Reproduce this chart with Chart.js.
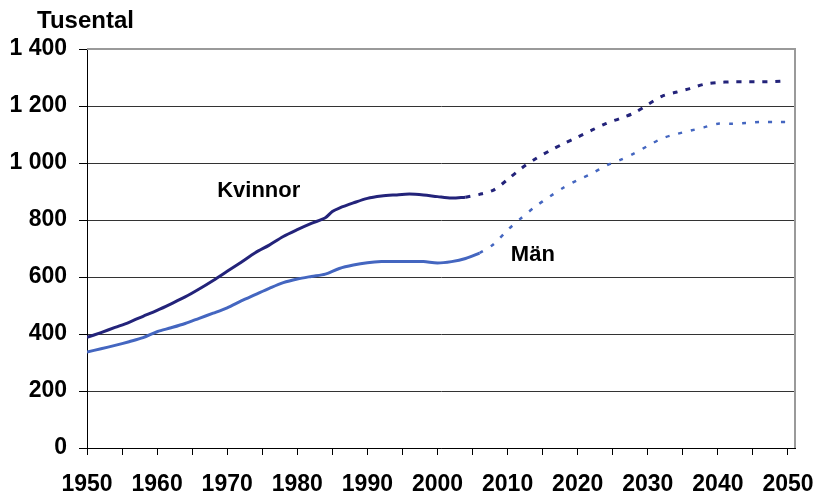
<!DOCTYPE html>
<html>
<head>
<meta charset="utf-8">
<script src="https://cdn.jsdelivr.net/npm/chart.js@4"></script>
<style>
html,body{margin:0;padding:0;background:#fff;}
#wrap{width:819px;height:494px;position:relative;}
</style>
</head>
<body>
<div id="wrap"><canvas id="c" width="819" height="494"></canvas></div>
<script>
// ---- Data (thousands) ----
const kvinnorObsYears = [1950,1952,1954,1956,1958,1960,1962,1964,1966,1968,1970,1972,1974,1976,1978,1980,1982,1984,1985,1986,1988,1990,1992,1994,1996,1998,2000,2002,2004];
const kvinnorObs      = [388,405,423,441,462,483,506,530,558,588,620,652,685,712,742,766,788,808,830,842,860,876,884,888,891,888,882,877,880];
const kvinnorProjYears = [2004,2006,2008,2010,2012,2014,2016,2018,2020,2022,2024,2026,2028,2030,2032,2034,2036,2038,2040,2042,2044,2046,2048,2050];
const kvinnorProj      = [880,890,905,942,982,1015,1043,1068,1091,1115,1138,1156,1175,1205,1234,1248,1261,1276,1282,1285,1285,1285,1286,1289];

const manObsYears = [1950,1952,1954,1956,1958,1960,1962,1964,1966,1968,1970,1972,1974,1976,1978,1980,1982,1984,1986,1988,1990,1992,1994,1996,1998,2000,2002,2004,2006];
const manObs      = [337,348,360,373,387,408,422,437,455,473,492,516,538,560,580,593,602,610,630,642,650,654,654,654,654,649,654,665,684];
const manProjYears = [2006,2008,2010,2012,2014,2016,2018,2020,2022,2024,2026,2028,2030,2032,2034,2036,2038,2040,2042,2044,2046,2048,2050];
const manProj      = [684,715,765,808,848,882,914,940,963,990,1010,1033,1060,1086,1101,1113,1125,1138,1138,1140,1144,1144,1144];

const xTickYears = [1950,1955,1960,1965,1970,1975,1980,1985,1990,1995,2000,2005,2010,2015,2020,2025,2030,2035,2040,2045,2050];
const yTicks = [0,200,400,600,800,1000,1200,1400];

const unitLabel = 'Tusental';
const seriesNames = ['Kvinnor','Män'];

const pts = (xs, ys) => xs.map((x, i) => ({x: x, y: ys[i]}));

const FONT = '"Liberation Sans", Arial, sans-serif';
const navy = '#23237a';
const blue = '#4466c0';

const textPlugin = {
  id: 'texts',
  afterDraw(chart) {
    const {ctx, chartArea, scales} = chart;
    ctx.save();
    // plot border (top & right)
    ctx.strokeStyle = '#9a9a9a';
    ctx.lineWidth = 2;
    ctx.beginPath();
    ctx.moveTo(chartArea.left, chartArea.top);
    ctx.lineTo(chartArea.right, chartArea.top);
    ctx.lineTo(chartArea.right, chartArea.bottom);
    ctx.stroke();
    ctx.fillStyle = '#000';
    ctx.textBaseline = 'middle';
    ctx.textAlign = 'left';
    ctx.font = 'bold 24px ' + FONT;
    ctx.fillText(unitLabel, 37, 21);
    ctx.font = 'bold 22px ' + FONT;
    ctx.textAlign = 'center';
    ctx.fillText(seriesNames[0], scales.x.getPixelForValue(1974.5), scales.y.getPixelForValue(903));
    ctx.fillText(seriesNames[1], scales.x.getPixelForValue(2013.6), scales.y.getPixelForValue(678));
    ctx.restore();
  }
};

new Chart(document.getElementById('c'), {
  type: 'line',
  data: {
    datasets: [
      {label: 'Kvinnor', data: pts(kvinnorObsYears, kvinnorObs), borderColor: navy, borderWidth: 3, pointRadius: 0, tension: 0.3, fill: false},
      {label: 'Kvinnor prognos', data: pts(kvinnorProjYears, kvinnorProj), borderColor: navy, borderWidth: 3, borderDash: [5, 8], pointRadius: 0, tension: 0.3, fill: false},
      {label: 'Män', data: pts(manObsYears, manObs), borderColor: blue, borderWidth: 3, pointRadius: 0, tension: 0.3, fill: false},
      {label: 'Män prognos', data: pts(manProjYears, manProj), borderColor: blue, borderWidth: 2.5, borderDash: [4, 9], pointRadius: 0, tension: 0.3, fill: false}
    ]
  },
  options: {
    responsive: false,
    animation: false,
    devicePixelRatio: 1,
    layout: {padding: {left: 0, right: 24, top: 49, bottom: 0}},
    plugins: {legend: {display: false}, tooltip: {enabled: false}, title: {display: false}},
    scales: {
      x: {
        type: 'linear',
        min: 1950,
        max: 2051,
        afterBuildTicks: (s) => { s.ticks = xTickYears.map(v => ({value: v})); },
        afterFit: (s) => { s.height = 46; s.paddingLeft = 0; s.paddingRight = 0; },
        grid: {drawOnChartArea: false, drawTicks: true, tickLength: 7, color: '#000', tickColor: '#000'},
        border: {display: true, color: '#000', width: 1},
        ticks: {
          autoSkip: false,
          maxRotation: 0,
          padding: 16,
          color: '#000',
          font: {family: FONT, size: 23, weight: 'bold'},
          callback: (v) => (v % 10 === 0 ? String(v) : '')
        }
      },
      y: {
        min: 0,
        max: 1400,
        afterBuildTicks: (s) => { s.ticks = yTicks.map(v => ({value: v})); },
        afterFit: (s) => { s.width = 87; s.paddingTop = 0; s.paddingBottom = 0; },
        grid: {color: '#333', lineWidth: 1, tickLength: 8, tickColor: '#000'},
        border: {display: true, color: '#000', width: 1},
        ticks: {
          padding: 12,
          color: '#000',
          font: {family: FONT, size: 23, weight: 'bold'},
          callback: (v) => (v >= 1000 ? Math.floor(v / 1000) + ' ' + String(v % 1000).padStart(3, '0') : String(v))
        }
      }
    }
  },
  plugins: [textPlugin]
});
</script>
</body>
</html>
